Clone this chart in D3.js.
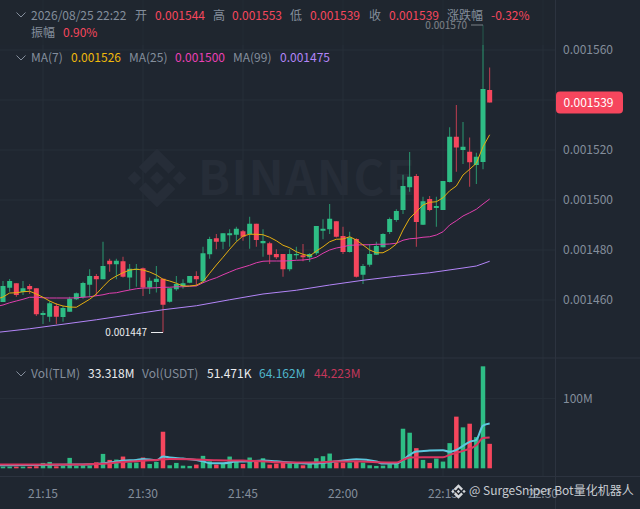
<!DOCTYPE html>
<html>
<head>
<meta charset="utf-8">
<script src="https://cdn.jsdelivr.net/npm/d3@7"></script>
<style>
  html, body { margin: 0; padding: 0; background: #1f2630; overflow: hidden; }
  text { font-family: "Noto Sans CJK SC", "Noto Sans", sans-serif; }
</style>
</head>
<body>
<div id="chart"></div>
<script>
// candles, one per minute from 21:09, prices in units of 0.000001
var firstMinute = 21 * 60 + 9;
var opens = [1459.2,1464.9,1466.7,1463.2,1465.6,1464.7,1454,1453.3,1457.6,1453.2,1455.3,1460.3,1461.1,1466.1,1469.6,1468.3,1475.7,1474.3,1475.5,1469,1472,1472.7,1465,1467.2,1468.5,1459.3,1464.3,1465.6,1466.9,1469.6,1467.5,1478.3,1484.7,1483.3,1485.9,1486.1,1487.5,1486.4,1490.5,1482.7,1482.7,1478.4,1478.4,1472.3,1477.9,1477.9,1477.1,1478.7,1487.7,1488.3,1491.5,1485.6,1479.2,1484.4,1470.1,1474.1,1478.1,1481.1,1487.2,1492,1496,1505.1,1509.6,1490.1,1500.4,1496.8,1496,1507.2,1525.3,1520,1519.3,1514,1515.2,1544];
var highs = [1467.6,1468.4,1466.7,1467.6,1466.4,1464.7,1455.7,1459.5,1458.7,1457.6,1461.3,1463,1467.3,1472.3,1470.4,1483.3,1476.5,1476.5,1477.3,1474.4,1474.4,1473,1469,1473.6,1468.5,1464.7,1469.6,1468.3,1469.6,1471.5,1481.3,1485.3,1486.4,1486.7,1488.3,1489.3,1488,1493.3,1490.5,1488.3,1483.3,1480.3,1478.4,1480.3,1481.3,1482.4,1478.7,1489.6,1492.3,1498.4,1491.5,1489.3,1487.3,1484.7,1474.4,1482.4,1483.3,1486.7,1493,1496.3,1510.1,1519.2,1510.4,1501.3,1501.6,1501.3,1507.6,1529.1,1538,1531.2,1525,1518.9,1570,1553];
var lows = [1459.2,1463.3,1461.3,1462,1462.4,1453.6,1450.4,1451.3,1450.4,1451.3,1455.3,1460,1460.5,1461.1,1461.6,1468.3,1471.3,1468.3,1469,1464,1465.3,1461.6,1462.4,1463,1447,1459,1463.7,1464.5,1466.7,1465.6,1467,1476.5,1480.3,1480.3,1481.3,1483.5,1483.7,1480.5,1481.3,1477.3,1474.4,1476.4,1469.3,1471.5,1476.3,1475.5,1475.2,1478,1484.3,1486.4,1485,1478.4,1479,1469,1466.4,1473.3,1478,1481,1486.4,1491.3,1494.4,1503.3,1481.3,1490,1495.5,1489.3,1496,1507,1511.3,1514.4,1505.3,1506.4,1512.3,1539];
var closes = [1465.6,1467.6,1462,1464.7,1464.3,1454.3,1454.8,1458.7,1453.3,1456.8,1460.5,1462.7,1466.8,1469.6,1468.3,1473.6,1474.3,1475.7,1469.3,1472.5,1472.5,1465,1467.7,1468.5,1458.1,1464.7,1466.4,1466.7,1469.6,1468.3,1478.7,1484.4,1483.3,1486.7,1486.7,1488.5,1485.3,1490.5,1484,1483.6,1478.1,1477.1,1472.3,1478.4,1478.4,1477.1,1478.4,1489.6,1488.5,1492.5,1485.3,1479.2,1485,1469.3,1473.6,1478.4,1481.6,1486.4,1492.4,1495.6,1505.6,1509.3,1491.2,1499.5,1496,1497.6,1507.6,1525.3,1521,1521.3,1515.1,1517.3,1544.4,1539];

// volume in millions, same minutes
var vols = [2.4,2.4,2.4,2.4,2.4,3,7.7,9.1,2.9,3.4,14.9,3.4,4.3,3.8,8.6,20.6,12,12.5,16.8,8.2,8.2,15.4,6.2,9.1,52.3,4.3,7.7,3.8,3.4,5.3,17.8,10,5.3,6.2,16.8,10,6.2,15.4,9.6,14.4,5.3,6.7,8.2,8.2,7.2,4.3,6.2,14.4,17.3,21.1,8.6,8.2,8.2,9.6,8.2,4.3,3.4,3.8,5.8,8.2,56.6,50.9,28.8,12,7.7,13.9,9.6,36,73.9,58.6,63.8,44.6,145.9,35];

// moving averages, one reading per minute from 21:08
var ma7 = [1460.3,1461.2,1462.8,1462.9,1463.3,1463.5,1462.4,1461.1,1459.6,1458.4,1457.6,1457.2,1457.1,1458.7,1460.3,1462.4,1465.3,1468,1469.6,1470.9,1472,1472.3,1472,1471.2,1470,1468.3,1467.6,1466.7,1465.6,1465.6,1465.9,1467.3,1470.7,1474,1477.1,1480.3,1483.3,1485.6,1486.3,1486.3,1486.1,1485.1,1483.7,1481.9,1480.9,1479.3,1478.3,1477.6,1479.6,1481.3,1483.3,1484.3,1484.4,1485.3,1484,1482,1480,1478.9,1478.9,1480.3,1482.4,1488,1492.7,1495.3,1498,1499.1,1499.3,1500.9,1503.7,1505.6,1510,1512.3,1514.7,1521.3,1526.1];
var ma25 = [1457.4,1458,1458.9,1459.6,1460.3,1461.1,1461.1,1460.9,1460.8,1460.8,1460.8,1460.8,1460.9,1461.1,1461.3,1461.7,1462.1,1462.7,1462.9,1463.5,1464,1464.5,1464.8,1464.8,1464.9,1465.1,1465.1,1465.3,1465.3,1465.5,1465.6,1466.9,1468,1468.9,1470.1,1471.2,1472.3,1473.1,1473.9,1474.9,1475.5,1475.6,1475.6,1475.6,1475.7,1475.9,1476,1476.3,1477.1,1478.7,1480,1480.8,1481.3,1481.9,1482,1482.1,1482.1,1482.3,1482.3,1482.4,1482.7,1483.9,1484.5,1484.7,1485.1,1485.3,1486,1487.3,1490,1491.7,1493.6,1494.9,1496.3,1498.4,1500.4];

// ma99 and the volume averages were read at these minutes only
var ma99Times = ["21:08","21:13","21:18","21:23","21:28","21:33","21:38","21:43","21:48","21:53","21:58","22:03","22:08","22:13","22:18","22:20","22:22"];
var ma99 = [1447,1448.5,1450.3,1452.1,1454.1,1456.1,1457.7,1460.1,1462.4,1463.9,1466,1467.9,1469.5,1470.9,1472.8,1473.6,1475.5];
var volBlueTimes = ["21:08","21:13","21:20","21:23","21:25","21:27","21:29","21:30","21:32","21:33","21:34","21:36","21:38","21:39","21:40","21:42","21:44","21:46","21:48","21:50","21:52","21:55","21:57","21:59","22:00","22:02","22:05","22:06","22:08","22:09","22:10","22:11","22:13","22:15","22:16","22:17","22:19","22:20","22:21","22:22"];
var volBlue = [4.3,4.8,5.3,6.2,8.2,11,12,13.4,11.5,16.8,15.4,13.9,12,10,7.2,7.2,9.6,10,11,10,8.2,6.7,7.7,10,11,13,9.6,6.7,6.7,12,19.2,24,25.4,25.9,23.5,26.4,37.9,40.8,61,64.2];
var volRedTimes = ["21:08","21:20","21:23","21:25","21:27","21:29","21:32","21:34","21:37","21:41","21:45","21:47","21:50","21:53","21:57","21:59","22:00","22:02","22:05","22:08","22:09","22:10","22:12","22:15","22:16","22:18","22:20","22:21","22:22"];
var volRed = [5.3,5.3,6.2,7.2,9.1,10,12,13.4,13,11.5,11,10.6,8.6,8.2,8.6,10,9.6,10,8.6,8.2,12,15.4,15.8,15.8,19.2,25,33,43.2,44.2];

var priceTicks = [1460,1480,1500,1520,1540,1560];
var priceLabels = [1460,1480,1500,1520,1560];
var timeTicks = ["21:15","21:30","21:45","22:00","22:15","22:30"];

var width = 640, height = 509;
var bg = "#1f2630", gridColor = "#272e39", lineColor = "#2c333f";
var red = "#f6465d", green = "#2ebd85", gray = "#848e9c";

function toMinute(s) { var p = s.split(":"); return +p[0] * 60 + +p[1]; }
function fmtPrice(v) { return "0." + d3.format("06d")(Math.round(v)); }

var svg = d3.select("#chart").append("svg")
    .attr("width", width)
    .attr("height", height)
    .style("display", "block");

svg.append("rect").attr("width", width).attr("height", height).attr("fill", bg);

// 21:15 sits at 43, 22:15 at 443
var x = d3.scaleLinear().domain([toMinute("21:15"), toMinute("22:15")]).range([43, 443]);
var y = d3.scaleLinear().domain([1560, 1460]).range([50, 300]);
var yVol = d3.scaleLinear().domain([0, 100]).range([468.3, 398.4]);

var candles = opens.map(function(o, i) {
    return { minute: firstMinute + i, open: o, high: highs[i], low: lows[i], close: closes[i], vol: vols[i] };
});
function candleColor(d) { return d.close >= d.open ? green : red; }

///////////////////////////////// Grid //////////////////////////////////

var grid = svg.append("g");
grid.selectAll("line.h").data(priceTicks).enter().append("line")
    .attr("x1", 0).attr("x2", 555)
    .attr("y1", function(d) { return y(d); }).attr("y2", function(d) { return y(d); })
    .attr("stroke", gridColor);
grid.append("line").attr("x1", 0).attr("x2", 555)
    .attr("y1", yVol(100)).attr("y2", yVol(100)).attr("stroke", gridColor);
grid.selectAll("line.v").data(timeTicks).enter().append("line")
    .attr("x1", function(d) { return x(toMinute(d)); }).attr("x2", function(d) { return x(toMinute(d)); })
    .attr("y1", 0).attr("y2", 476)
    .attr("stroke", gridColor);
grid.append("line").attr("x1", 555.5).attr("x2", 555.5).attr("y1", 0).attr("y2", height).attr("stroke", lineColor);
grid.append("line").attr("x1", 0).attr("x2", width).attr("y1", 358).attr("y2", 358).attr("stroke", lineColor);
grid.append("line").attr("x1", 0).attr("x2", width).attr("y1", 476.5).attr("y2", 476.5).attr("stroke", lineColor);

///////////////////////////////// Watermark //////////////////////////////

var logoPath = "M7.357 10.31 12 5.67l4.645 4.645 2.7-2.7L12 .27 4.657 7.612l2.7 2.7zM.27 12l2.7-2.7L5.67 12l-2.7 2.7L.27 12zm7.087 1.69L12 18.33l4.645-4.645 2.702 2.697-.002.002L12 23.73l-7.343-7.342-.004-.004 2.704-2.694zM18.33 12l2.7-2.7 2.7 2.7-2.7 2.7-2.7-2.7zm-3.59-.002h.002V12L12 14.742l-2.738-2.737-.005-.005.005-.005.48-.48.233-.233L12 9.26l2.74 2.738z";
svg.append("path").attr("d", logoPath)
    .attr("transform", "translate(127,148) scale(2.5)")
    .attr("fill", "#262d38");
svg.append("text").text("BINANCE")
    .attr("x", 198).attr("y", 195)
    .attr("font-size", 47).attr("font-weight", 700)
    .attr("letter-spacing", 1.5)
    .attr("fill", "#262d38");

///////////////////////////////// Candles ////////////////////////////////

svg.append("g").selectAll("line").data(candles).enter().append("line")
    .attr("x1", function(d) { return x(d.minute); })
    .attr("x2", function(d) { return x(d.minute); })
    .attr("y1", function(d) { return y(d.high); })
    .attr("y2", function(d) { return y(d.low); })
    .attr("stroke", candleColor)
    .attr("stroke-width", 1)
    .attr("opacity", 0.75);

svg.append("g").selectAll("rect").data(candles).enter().append("rect")
    .attr("x", function(d) { return x(d.minute) - 2.5; })
    .attr("width", 5)
    .attr("y", function(d) { return y(Math.max(d.open, d.close)); })
    .attr("height", function(d) { return Math.max(1, Math.abs(y(d.open) - y(d.close))); })
    .attr("fill", candleColor);

// moving average lines
var maLine = d3.line()
    .x(function(d) { return x(d[0]); })
    .y(function(d) { return y(d[1]); });

function perMinute(values) {
    return values.map(function(v, i) { return [firstMinute - 1 + i, v]; });
}
function atTimes(times, values) {
    return values.map(function(v, i) { return [toMinute(times[i]), v]; });
}

svg.append("path").attr("d", maLine(atTimes(ma99Times, ma99)))
    .attr("fill", "none").attr("stroke", "#b385f8").attr("stroke-width", 1);
svg.append("path").attr("d", maLine(perMinute(ma25)))
    .attr("fill", "none").attr("stroke", "#e03fae").attr("stroke-width", 1);
svg.append("path").attr("d", maLine(perMinute(ma7)))
    .attr("fill", "none").attr("stroke", "#e5ae10").attr("stroke-width", 1);

// high and low markers
function extremeLabel(d, value, color) {
    var py = y(value);
    svg.append("line")
        .attr("x1", x(d.minute) - 12).attr("x2", x(d.minute))
        .attr("y1", py).attr("y2", py)
        .attr("stroke", color);
    svg.append("text").text(fmtPrice(value))
        .attr("x", x(d.minute) - 16).attr("y", py)
        .attr("dy", "0.35em")
        .attr("text-anchor", "end")
        .attr("font-size", 10)
        .attr("fill", color);
}
var highest = candles.reduce(function(a, b) { return b.high > a.high ? b : a; });
var lowest = candles.reduce(function(a, b) { return b.low < a.low ? b : a; });
extremeLabel(highest, highest.high, "#eaecef");
extremeLabel(lowest, lowest.low, "#eaecef");

// the legend block has a translucent backing that dims what runs under it
svg.append("rect")
    .attr("x", 0).attr("y", 0).attr("width", 555).attr("height", 45)
    .attr("fill", bg).attr("opacity", 0.55);

///////////////////////////////// Volume /////////////////////////////////

svg.append("g").selectAll("rect").data(candles).enter().append("rect")
    .attr("x", function(d) { return x(d.minute) - 2.25; })
    .attr("width", 4.5)
    .attr("y", function(d) { return yVol(d.vol); })
    .attr("height", function(d) { return yVol(0) - yVol(d.vol); })
    .attr("fill", candleColor);

var volLine = d3.line()
    .x(function(d) { return x(d[0]); })
    .y(function(d) { return yVol(d[1]); })
    .curve(d3.curveMonotoneX);

svg.append("path").attr("d", volLine(atTimes(volBlueTimes, volBlue)))
    .attr("fill", "none").attr("stroke", "#5cc8de").attr("stroke-width", 2);
svg.append("path").attr("d", volLine(atTimes(volRedTimes, volRed)))
    .attr("fill", "none").attr("stroke", "#dc3560").attr("stroke-width", 2);

///////////////////////////////// Axes ///////////////////////////////////

var priceAxis = d3.axisRight(y)
    .tickValues(priceLabels)
    .tickSize(0).tickPadding(0)
    .tickFormat(fmtPrice);
svg.append("g").attr("transform", "translate(563,0)").call(priceAxis)
    .call(function(g) { g.select(".domain").remove(); })
    .selectAll("text").attr("font-size", 12).attr("fill", gray)
    .style("font-family", '"Noto Sans CJK SC", "Noto Sans", sans-serif');

var volAxis = d3.axisRight(yVol)
    .tickValues([100])
    .tickSize(0).tickPadding(0)
    .tickFormat(function(d) { return d + "M"; });
svg.append("g").attr("transform", "translate(563,0)").call(volAxis)
    .call(function(g) { g.select(".domain").remove(); })
    .selectAll("text").attr("font-size", 12).attr("fill", gray)
    .style("font-family", '"Noto Sans CJK SC", "Noto Sans", sans-serif');

svg.append("g").selectAll("text").data(timeTicks).enter().append("text")
    .text(function(d) { return d; })
    .attr("x", function(d) { return x(toMinute(d)); })
    .attr("y", 494).attr("dy", "0.35em")
    .attr("text-anchor", "middle")
    .attr("font-size", 12)
    .attr("fill", gray);

// current price tag
var last = candles[candles.length - 1];
svg.append("rect")
    .attr("x", 556).attr("y", y(last.close) - 11)
    .attr("width", 67).attr("height", 22).attr("rx", 4)
    .attr("fill", red);
svg.append("text").text(fmtPrice(last.close))
    .attr("x", 563.5).attr("y", y(last.close)).attr("dy", "0.35em")
    .attr("font-size", 12).attr("fill", "#ffffff");

///////////////////////////////// Legends ////////////////////////////////

var legendRows = [
    [31, 16, "2026/08/25 22:22", gray], [135, 16, "开", gray], [155, 16, "0.001544", red],
    [213, 16, "高", gray], [232, 16, "0.001553", red], [290, 16, "低", gray], [310, 16, "0.001539", red],
    [369, 16, "收", gray], [389, 16, "0.001539", red], [447, 16, "涨跌幅", gray], [491, 16, "-0.32%", red],
    [31, 33, "振幅", gray], [63, 33, "0.90%", red],
    [31, 58, "MA(7)", gray], [71, 58, "0.001526", "#f0b90b"], [129, 58, "MA(25)", gray],
    [175, 58, "0.001500", "#eb40b5"], [233, 58, "MA(99)", gray], [280, 58, "0.001475", "#b385f8"],
    [31, 374, "Vol(TLM)", gray], [88, 374, "33.318M", "#eaecef"], [142, 374, "Vol(USDT)", gray],
    [207, 374, "51.471K", "#eaecef"], [259, 374, "64.162M", "#4fb6cc"], [314, 374, "44.223M", "#c4375a"]
];
svg.append("g").selectAll("text").data(legendRows).enter().append("text")
    .text(function(d) { return d[2]; })
    .attr("x", function(d) { return d[0]; })
    .attr("y", function(d) { return d[1]; })
    .attr("dy", "0.35em")
    .attr("font-size", 12)
    .attr("fill", function(d) { return d[3]; });

// collapse arrows
svg.append("g").selectAll("path").data([15, 58, 374]).enter().append("path")
    .attr("d", function(d) { return "M16.5," + (d - 2.5) + "L21,"  + (d + 2) + "L25.5," + (d - 2.5); })
    .attr("fill", "none").attr("stroke", gray).attr("stroke-width", 1);

// bottom right credit
svg.append("path").attr("d", logoPath)
    .attr("transform", "translate(451,484) scale(0.62)")
    .attr("fill", "#d5d8dc");
svg.append("text").text("@ SurgeSniper Bot量化机器人")
    .attr("x", 469).attr("y", 491).attr("dy", "0.35em")
    .attr("font-size", 12)
    .attr("fill", "#c8ccd2");
</script>
</body>
</html>
